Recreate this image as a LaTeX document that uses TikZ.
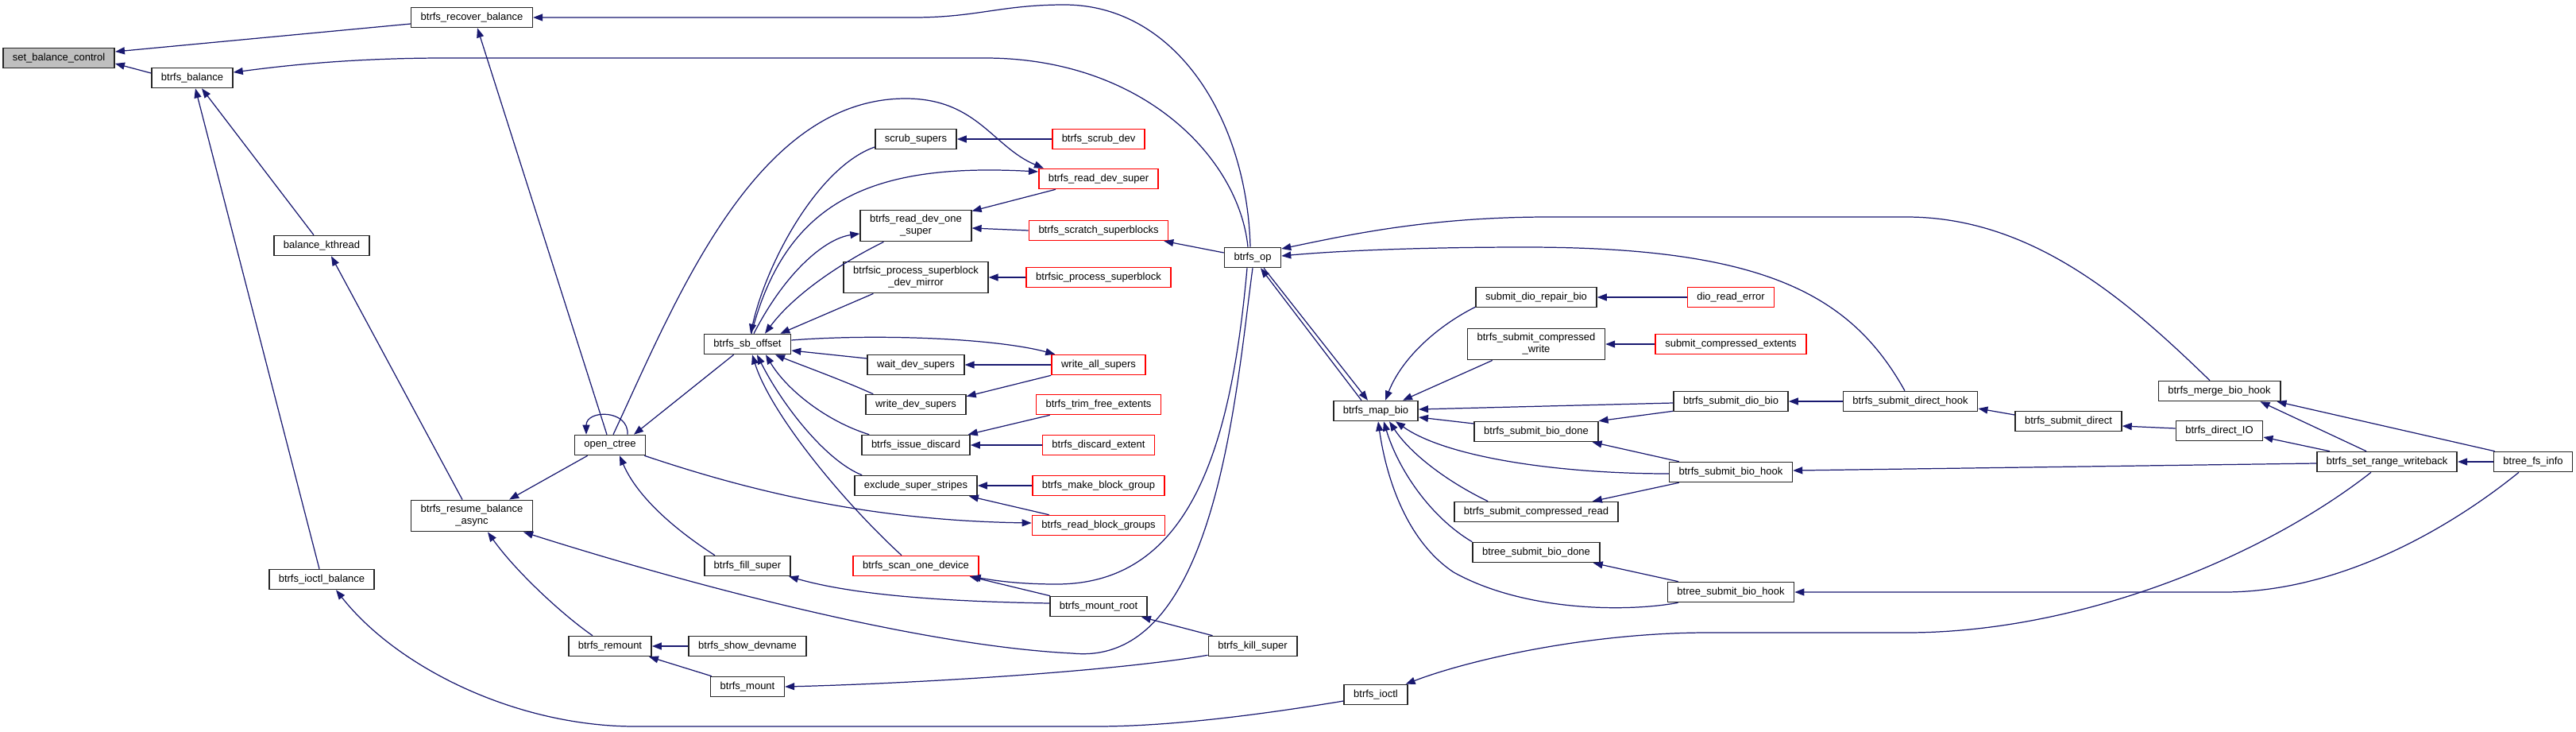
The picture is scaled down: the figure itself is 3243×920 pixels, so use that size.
\documentclass[tikz,border=0pt]{standalone}
\usepackage{fontspec}
\setmainfont{Liberation Sans}
\usetikzlibrary{arrows.meta,calc}
\definecolor{archi}{HTML}{191970}
\definecolor{radice}{HTML}{BFBFBF}

\begin{document}
\begin{tikzpicture}[x=0.02cm,y=-0.02cm,
    fn/.style={draw=black!85, line width=0.9pt, fill=white, inner xsep=0.24cm, inner ysep=3.5pt,
      minimum height=0.5cm, align=center, font=\fontsize{7.4}{8.5}\selectfont},
    fnrosso/.style={fn, draw=red},
    fnradice/.style={fn, fill=radice},
    chiama/.style={draw=archi, line width=0.7pt, -{Triangle[length=0.24cm,width=0.18cm]}}]

            \useasboundingbox (0,0) rectangle (3243,920);

            % Nodi
            \node[fnradice] (sbc) at (74,73) {set\_balance\_control};
            \node[fn] (recbal) at (594,22) {btrfs\_recover\_balance};
            \node[fn] (bal) at (242,98) {btrfs\_balance};
            \node[fn] (kthr) at (405,309) {balance\_kthread};
            \node[fn] (ioctlbal) at (405,729) {btrfs\_ioctl\_balance};
            \node[fn] (resume) at (594,649) {btrfs\_resume\_balance\\\_async};
            \node[fn] (octree) at (768,560) {open\_ctree};
            \node[fn] (remount) at (768,813) {btrfs\_remount};
            \node[fn] (sboff) at (941,433) {btrfs\_sb\_offset};
            \node[fn] (fill) at (941,712) {btrfs\_fill\_super};
            \node[fn] (showdev) at (941,813) {btrfs\_show\_devname};
            \node[fn] (mount) at (941,864) {btrfs\_mount};

            \node[fn] (scrub) at (1153,175) {scrub\_supers};
            \node[fn] (rdone) at (1153,284) {btrfs\_read\_dev\_one\\\_super};
            \node[fn] (sicdev) at (1153,349) {btrfsic\_process\_superblock\\\_dev\_mirror};
            \node[fn] (waitdev) at (1153,459) {wait\_dev\_supers};
            \node[fn] (writedev) at (1153,509) {write\_dev\_supers};
            \node[fn] (issue) at (1153,560) {btrfs\_issue\_discard};
            \node[fn] (exclude) at (1153,611) {exclude\_super\_stripes};
            \node[fnrosso] (scan) at (1153,712) {btrfs\_scan\_one\_device};

            \node[fnrosso] (scrubdev) at (1383,175) {btrfs\_scrub\_dev};
            \node[fnrosso] (rdsuper) at (1383,225) {btrfs\_read\_dev\_super};
            \node[fnrosso] (scratch) at (1383,290) {btrfs\_scratch\_superblocks};
            \node[fnrosso] (sicproc) at (1383,349) {btrfsic\_process\_superblock};
            \node[fnrosso] (writeall) at (1383,459) {write\_all\_supers};
            \node[fnrosso] (trim) at (1383,509) {btrfs\_trim\_free\_extents};
            \node[fnrosso] (discard) at (1383,560) {btrfs\_discard\_extent};
            \node[fnrosso] (mkbg) at (1383,611) {btrfs\_make\_block\_group};
            \node[fnrosso] (rdbg) at (1383,661) {btrfs\_read\_block\_groups};
            \node[fn] (mountroot) at (1383,763) {btrfs\_mount\_root};

            \node[fn] (op) at (1577,324) {btrfs\_op};
            \node[fn] (kill) at (1577,813) {btrfs\_kill\_super};
            \node[fn] (mapbio) at (1732,517) {btrfs\_map\_bio};
            \node[fn] (ioctl) at (1732,874) {btrfs\_ioctl};

            \node[fn] (repair) at (1934,374) {submit\_dio\_repair\_bio};
            \node[fn] (cwrite) at (1934,433) {btrfs\_submit\_compressed\\\_write};
            \node[fn] (biodone) at (1934,543) {btrfs\_submit\_bio\_done};
            \node[fn] (cread) at (1934,644) {btrfs\_submit\_compressed\_read};
            \node[fn] (btdone) at (1934,695) {btree\_submit\_bio\_done};

            \node[fnrosso] (dioread) at (2179,374) {dio\_read\_error};
            \node[fnrosso] (cext) at (2179,433) {submit\_compressed\_extents};
            \node[fn] (diobio) at (2179,505) {btrfs\_submit\_dio\_bio};
            \node[fn] (biohook) at (2179,594) {btrfs\_submit\_bio\_hook};
            \node[fn] (bthook) at (2179,745) {btree\_submit\_bio\_hook};

            \node[fn] (dhook) at (2405,505) {btrfs\_submit\_direct\_hook};
            \node[fn] (sdirect) at (2604,530) {btrfs\_submit\_direct};
            \node[fn] (merge) at (2794,492) {btrfs\_merge\_bio\_hook};
            \node[fn] (dio) at (2794,542) {btrfs\_direct\_IO};
            \node[fn] (srw) at (3005,581) {btrfs\_set\_range\_writeback};
            \node[fn] (fsinfo) at (3189,581) {btree\_fs\_info};

            % Archi: parte sinistra
            \draw[chiama] ($(recbal.west)+(0,8)$) -- ($(sbc.east)+(0,-8)$);
            \draw[chiama] ($(bal.west)+(0,-6)$) -- ($(sbc.east)+(0,7)$);
            \draw[chiama] ($(op.north)+(-3,0)$) .. controls (1570,150) and (1480,6) .. (1340,6)
                .. controls (1260,6) and (1230,22) .. (1150,22) -- (recbal.east);
            \draw[chiama] ($(op.north)+(-6,0)$) .. controls (1560,200) and (1440,73) .. (1240,73)
                -- (560,73) .. controls (430,73) and (340,85) .. ($(bal.east)+(0,-7)$);
            \draw[chiama] ($(octree.north)+(-4,0)$) -- ($(recbal.south)+(7,0)$);
            \draw[chiama] ($(kthr.north)+(-10,0)$) -- ($(bal.south)+(12,0)$);
            \draw[chiama] ($(ioctlbal.north)+(-3,0)$) -- ($(bal.south)+(4,0)$);
            \draw[chiama] ($(resume.north)+(-12,0)$) -- ($(kthr.south)+(12,0)$);
            \draw[chiama] ($(octree.north)+(22,0)$) .. controls (792,515) and (738,515) .. ($(octree.north)+(-30,0)$);
            \draw[chiama] ($(sboff.south west)+(38,0)$) -- ($(octree.north)+(30,0)$);
            \draw[chiama] ($(octree.north)+(4,0)$) .. controls (850,380) and (950,124) .. (1140,124)
                .. controls (1230,124) and (1250,185) .. ($(rdsuper.north west)+(7,0)$);
            \draw[chiama] ($(octree.south west)+(17,0)$) -- ($(resume.north east)+(-30,0)$);
            \draw[chiama] ($(octree.south east)+(-2,0)$) .. controls (950,620) and (1100,655) .. ($(rdbg.west)+(0,-3)$);
            \draw[chiama] ($(fill.north west)+(14,0)$) .. controls (840,660) and (800,620) .. ($(octree.south)+(12,0)$);
            \draw[chiama] ($(remount.north)+(-22,0)$) .. controls (710,775) and (650,720) .. ($(resume.south)+(20,0)$);
            \draw[chiama] ($(mount.north west)+(2,0)$) -- ($(remount.south east)+(-4,0)$);
            \draw[chiama] (showdev) -- (remount);

            % Archi: btrfs_sb_offset
            \draw[chiama] ($(sboff.north)+(5,0)$) .. controls (990,250) and (1100,205) .. ($(rdsuper.west)+(0,-9)$);
            \draw[chiama] ($(scrub.west)+(0,10)$) .. controls (1030,210) and (965,330) .. ($(sboff.north)+(4,0)$);
            \draw[chiama] ($(sboff.north)+(8,0)$) .. controls (990,340) and (1040,300) .. ($(rdone.west)+(0,10)$);
            \draw[chiama] ($(rdone.south west)+(30,0)$) .. controls (1060,330) and (1000,370) .. ($(sboff.north)+(22,0)$);
            \draw[chiama] ($(sicdev.south west)+(38,0)$) -- ($(sboff.north east)+(-14,0)$);
            \draw[chiama] ($(waitdev.west)+(0,-8)$) -- ($(sboff.east)+(0,8)$);
            \draw[chiama] ($(sboff.east)+(0,-5)$) .. controls (1100,420) and (1250,425) .. ($(writeall.north west)+(5,0)$);
            \draw[chiama] ($(writedev.north west)+(10,0)$) .. controls (1060,478) and (1010,460) .. ($(sboff.south)+(35,0)$);
            \draw[chiama] ($(issue.north west)+(10,0)$) .. controls (1040,530) and (990,490) .. ($(sboff.south)+(23,0)$);
            \draw[chiama] ($(exclude.north west)+(10,0)$) .. controls (1040,580) and (985,510) .. ($(sboff.south)+(12,0)$);
            \draw[chiama] ($(scan.north)+(-18,0)$) .. controls (1060,630) and (970,520) .. ($(sboff.south)+(6,0)$);

            % Archi: colonna rossa
            \draw[chiama] (scrubdev) -- (scrub);
            \draw[chiama] ($(rdsuper.south west)+(22,0)$) -- ($(rdone.north east)+(0,2)$);
            \draw[chiama] (scratch.west) -- ($(rdone.east)+(0,3)$);
            \draw[chiama] (sicproc) -- (sicdev);
            \draw[chiama] (writeall) -- (waitdev);
            \draw[chiama] (writeall.south west) -- ($(writedev.north east)+(0,3)$);
            \draw[chiama] ($(trim.south west)+(18,0)$) -- ($(issue.north east)+(-3,0)$);
            \draw[chiama] (discard) -- (issue);
            \draw[chiama] (mkbg) -- (exclude);
            \draw[chiama] ($(rdbg.north west)+(22,0)$) -- ($(exclude.south east)+(-11,0)$);
            \draw[chiama] ($(mountroot.north west)+(1,0)$) -- ($(scan.south east)+(-12,0)$);
            \draw[chiama] ($(mountroot.west)+(0,-4)$) .. controls (1200,757) and (1080,750) .. ($(fill.south east)+(-3,0)$);

            % Archi: btrfs_op
            \draw[chiama] ($(op.west)+(0,-6)$) -- ($(scratch.south east)+(-6,0)$);
            \draw[chiama] ($(op.south)+(-7,0)$) .. controls (1550,560) and (1500,735) .. (1330,735)
                .. controls (1280,735) and (1250,730) .. ($(scan.south east)+(-10,0)$);
            \draw[chiama] ($(op.south)+(0,0)$) .. controls (1555,500) and (1530,840) .. (1350,822)
                .. controls (1150,812) and (850,730) .. ($(resume.south east)+(-12,0)$);
            \draw[chiama] ($(op.south)+(14,0)$) -- ($(mapbio.north)+(-10,0)$);
            \draw[chiama] ($(mapbio.north)+(-18,0)$) -- ($(op.south)+(10,0)$);
            \draw[chiama] ($(kill.north west)+(6,0)$) -- ($(mountroot.south east)+(-8,0)$);
            \draw[chiama] ($(kill.south west)+(0,-2)$) .. controls (1400,845) and (1150,860) .. (mount.east);
            \draw[chiama] ($(ioctl.west)+(0,8)$) .. controls (1600,897) and (1480,914) .. (1380,914)
                -- (800,914) .. controls (650,914) and (500,840) .. ($(ioctlbal.south)+(18,0)$);

            % Archi: btrfs_map_bio
            \draw[chiama] ($(repair.south west)+(0,-1)$) .. controls (1810,410) and (1765,450) .. ($(mapbio.north)+(12,0)$);
            \draw[chiama] ($(cwrite.south west)+(32,0)$) -- ($(mapbio.north)+(34,0)$);
            \draw[chiama] ($(diobio.west)+(0,2)$) -- ($(mapbio.east)+(0,-2)$);
            \draw[chiama] ($(diobio.south west)+(0,-1)$) -- (biodone.north east);
            \draw[chiama] ($(biodone.west)+(0,-10)$) -- ($(mapbio.east)+(0,8)$);
            \draw[chiama] ($(biohook.north west)+(13,0)$) -- ($(biodone.south east)+(-8,0)$);
            \draw[chiama] ($(biohook.west)+(0,2)$) .. controls (1960,596) and (1820,575) .. ($(mapbio.south)+(25,0)$);
            \draw[chiama] ($(biohook.south west)+(13,0)$) -- ($(cread.north east)+(-33,0)$);
            \draw[chiama] ($(cread.north west)+(43,0)$) .. controls (1820,605) and (1775,570) .. ($(mapbio.south)+(17,0)$);
            \draw[chiama] (btdone.north west) .. controls (1800,650) and (1760,590) .. ($(mapbio.south)+(10,0)$);
            \draw[chiama] ($(bthook.north west)+(14,0)$) -- ($(btdone.south east)+(-9,0)$);
            \draw[chiama] ($(bthook.south west)+(14,0)$) .. controls (2050,770) and (1920,770) .. (1830,720)
                .. controls (1770,680) and (1745,600) .. ($(mapbio.south)+(3,0)$);
            \draw[chiama] (dioread) -- (repair);
            \draw[chiama] (cext) -- (cwrite);

            % Archi: parte destra
            \draw[chiama] (dhook) -- (diobio);
            \draw[chiama] ($(dhook.north)+(-7,0)$) .. controls (2330,370) and (2220,311) .. (1920,311)
                .. controls (1780,311) and (1680,316) .. ($(op.east)+(0,-2)$);
            \draw[chiama] ($(merge.north)+(-12,0)$) .. controls (2680,380) and (2560,273) .. (2400,273)
                -- (1950,273) .. controls (1800,273) and (1700,295) .. ($(op.east)+(0,-11)$);
            \draw[chiama] ($(sdirect.west)+(0,-8)$) -- ($(dhook.east)+(0,9)$);
            \draw[chiama] ($(dio.west)+(0,-3)$) -- ($(sdirect.east)+(0,6)$);
            \draw[chiama] ($(srw.north west)+(17,0)$) -- ($(dio.east)+(0,8)$);
            \draw[chiama] ($(srw.north)+(-26,0)$) -- ($(merge.south east)+(-26,0)$);
            \draw[chiama] ($(fsinfo.north west)+(2,0)$) -- ($(merge.south east)+(-5,0)$);
            \draw[chiama] (fsinfo) -- (srw);
            \draw[chiama] ($(srw.west)+(0,2)$) -- ($(biohook.east)+(0,-2)$);
            \draw[chiama] ($(fsinfo.south)+(-18,0)$) .. controls (3090,660) and (2950,745) .. (2800,745) -- (bthook.east);
            \draw[chiama] ($(srw.south)+(-20,0)$) .. controls (2850,700) and (2620,796) .. (2400,796)
                -- (2150,796) .. controls (2000,796) and (1850,830) .. ($(ioctl.north east)+(-3,0)$);

        \end{tikzpicture}
\end{document}
